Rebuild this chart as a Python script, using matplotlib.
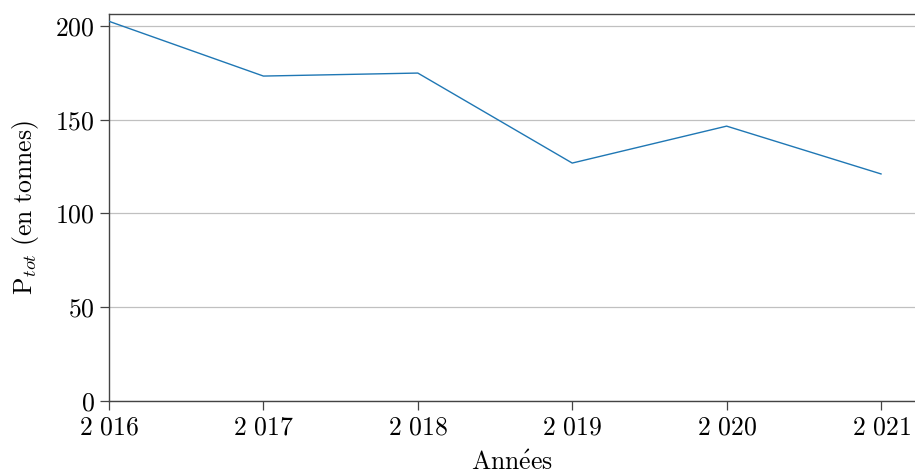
import matplotlib
matplotlib.use("Agg")
import matplotlib.pyplot as plt
from matplotlib.ticker import FuncFormatter, FixedLocator

# Annual total phosphorus (tonnes)
years = [2016, 2017, 2018, 2019, 2020, 2021]
p_tot = [202.5, 173.3, 174.9, 126.9, 146.6, 121.1]
y_ticks = [0, 50, 100, 150, 200]

plt.rcParams["mathtext.fontset"] = "cm"
plt.rcParams["font.family"] = ["cmr10", "DejaVu Serif"]
plt.rcParams["axes.formatter.use_mathtext"] = True

fig = plt.figure(figsize=(9.15, 4.73), dpi=100)
ax = fig.add_axes([109 / 915, 72 / 473, 806 / 915, 387 / 473])

ax.plot(years, p_tot, color="#1f77b4", linewidth=1.0, zorder=3)

ax.set_xlim(2016, 2021.22)
ax.set_ylim(0, 206.4)

ax.xaxis.set_major_locator(FixedLocator(years))
ax.yaxis.set_major_locator(FixedLocator(y_ticks))


def thousands(v, pos):
    s = f"{int(round(v)):d}"
    if len(s) > 3:
        s = s[:-3] + r"\,\," + s[-3:]
    return "$" + s + "$"


ax.xaxis.set_major_formatter(FuncFormatter(thousands))
ax.yaxis.set_major_formatter(FuncFormatter(lambda v, p: f"${int(v)}$"))

ax.grid(axis="y", color="#c0c0c0", linewidth=0.9, zorder=0)
ax.set_axisbelow(True)

for side in ("left", "bottom", "top"):
    ax.spines[side].set_color("#444444")
    ax.spines[side].set_linewidth(1.0)
ax.spines["right"].set_visible(False)

ax.tick_params(axis="both", direction="out", length=6.5, width=0.9,
               color="#444444", labelsize=18.5, pad=4)
ax.tick_params(axis="x", top=False)

ax.set_xlabel(r"$\mathrm{Ann\acute{e}es}$", fontsize=18.5, labelpad=8)
ax.set_ylabel(r"$\mathrm{P}_{tot}\ \mathrm{(en\ tonnes)}$", fontsize=18.5,
              labelpad=10)

fig.savefig("out.png", dpi=100)
